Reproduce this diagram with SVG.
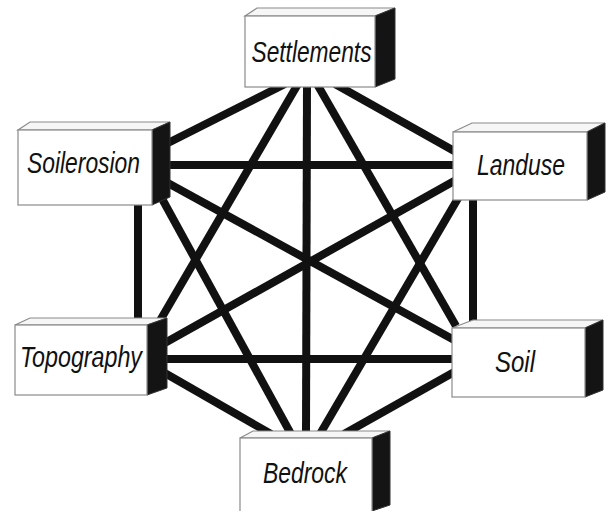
<svg xmlns="http://www.w3.org/2000/svg" width="611" height="511" viewBox="0 0 611 511">
<style>
.edge{stroke:#111;stroke-width:8;stroke-linecap:butt;fill:none}
.front{fill:#fff;stroke:#8a8a8a;stroke-width:1.2}
.top{fill:#f6f6f6;stroke:#8a8a8a;stroke-width:1.2}
.side{fill:#141414;stroke:#333;stroke-width:1}
.lbl{font-family:"Liberation Sans",Arial,sans-serif;font-style:italic;font-size:30px;fill:#111;text-anchor:middle}
</style>
<rect width="611" height="511" fill="#fff"/>
<g id="connectors">
<line class="edge" x1="285" y1="84" x2="166" y2="144"/>
<line class="edge" x1="298" y1="84" x2="158" y2="324"/>
<line class="edge" x1="307" y1="84" x2="306" y2="434"/>
<line class="edge" x1="317" y1="84" x2="456" y2="326"/>
<line class="edge" x1="335" y1="84" x2="456" y2="152"/>
<line class="edge" x1="166" y1="165" x2="456" y2="165"/>
<line class="edge" x1="166" y1="182" x2="456" y2="341"/>
<line class="edge" x1="160" y1="195" x2="291" y2="434"/>
<line class="edge" x1="138" y1="203" x2="138" y2="320"/>
<line class="edge" x1="456" y1="180" x2="163" y2="344"/>
<line class="edge" x1="460" y1="195" x2="320" y2="434"/>
<line class="edge" x1="473" y1="198" x2="473" y2="322"/>
<line class="edge" x1="163" y1="359" x2="456" y2="359"/>
<line class="edge" x1="163" y1="372" x2="271" y2="434"/>
<line class="edge" x1="456" y1="371" x2="344" y2="434"/>
</g>
<g id="settlements">
<polygon class="top" points="245,16 257,8 395,8 375,16"/>
<polygon class="side" points="375,16 395,8 395,79 375,87"/>
<rect class="front" x="245" y="16" width="130" height="71"/>
<text class="lbl" x="311.5" y="62" textLength="120" lengthAdjust="spacingAndGlyphs">Settlements</text>
</g>
<g id="soilerosion">
<polygon class="top" points="18,130 30,122 170,122 152,130"/>
<polygon class="side" points="152,130 170,122 170,197 152,205"/>
<rect class="front" x="18" y="130" width="134" height="75"/>
<text class="lbl" x="83.5" y="173" textLength="113" lengthAdjust="spacingAndGlyphs">Soilerosion</text>
</g>
<g id="landuse">
<polygon class="top" points="453,132 472,123 605,123 587,132"/>
<polygon class="side" points="587,132 605,123 605,192 587,200"/>
<rect class="front" x="453" y="132" width="134" height="68"/>
<text class="lbl" x="521" y="175" textLength="88" lengthAdjust="spacingAndGlyphs">Landuse</text>
</g>
<g id="topography">
<polygon class="top" points="15,325 30,318 167,318 147,325"/>
<polygon class="side" points="147,325 167,318 167,388 147,395"/>
<rect class="front" x="15" y="325" width="132" height="70"/>
<text class="lbl" x="81" y="367" textLength="122" lengthAdjust="spacingAndGlyphs">Topography</text>
</g>
<g id="soil">
<polygon class="top" points="452,328 473,320 603,320 585,328"/>
<polygon class="side" points="585,328 603,320 603,390 585,397"/>
<rect class="front" x="452" y="328" width="133" height="69"/>
<text class="lbl" x="515" y="372" textLength="40" lengthAdjust="spacingAndGlyphs">Soil</text>
</g>
<g id="bedrock">
<polygon class="top" points="240,438 253,431 390,431 372,438"/>
<polygon class="side" points="372,438 390,431 390,505 372,511"/>
<rect class="front" x="240" y="438" width="132" height="74"/>
<text class="lbl" x="305" y="483" textLength="84" lengthAdjust="spacingAndGlyphs">Bedrock</text>
</g>
</svg>
